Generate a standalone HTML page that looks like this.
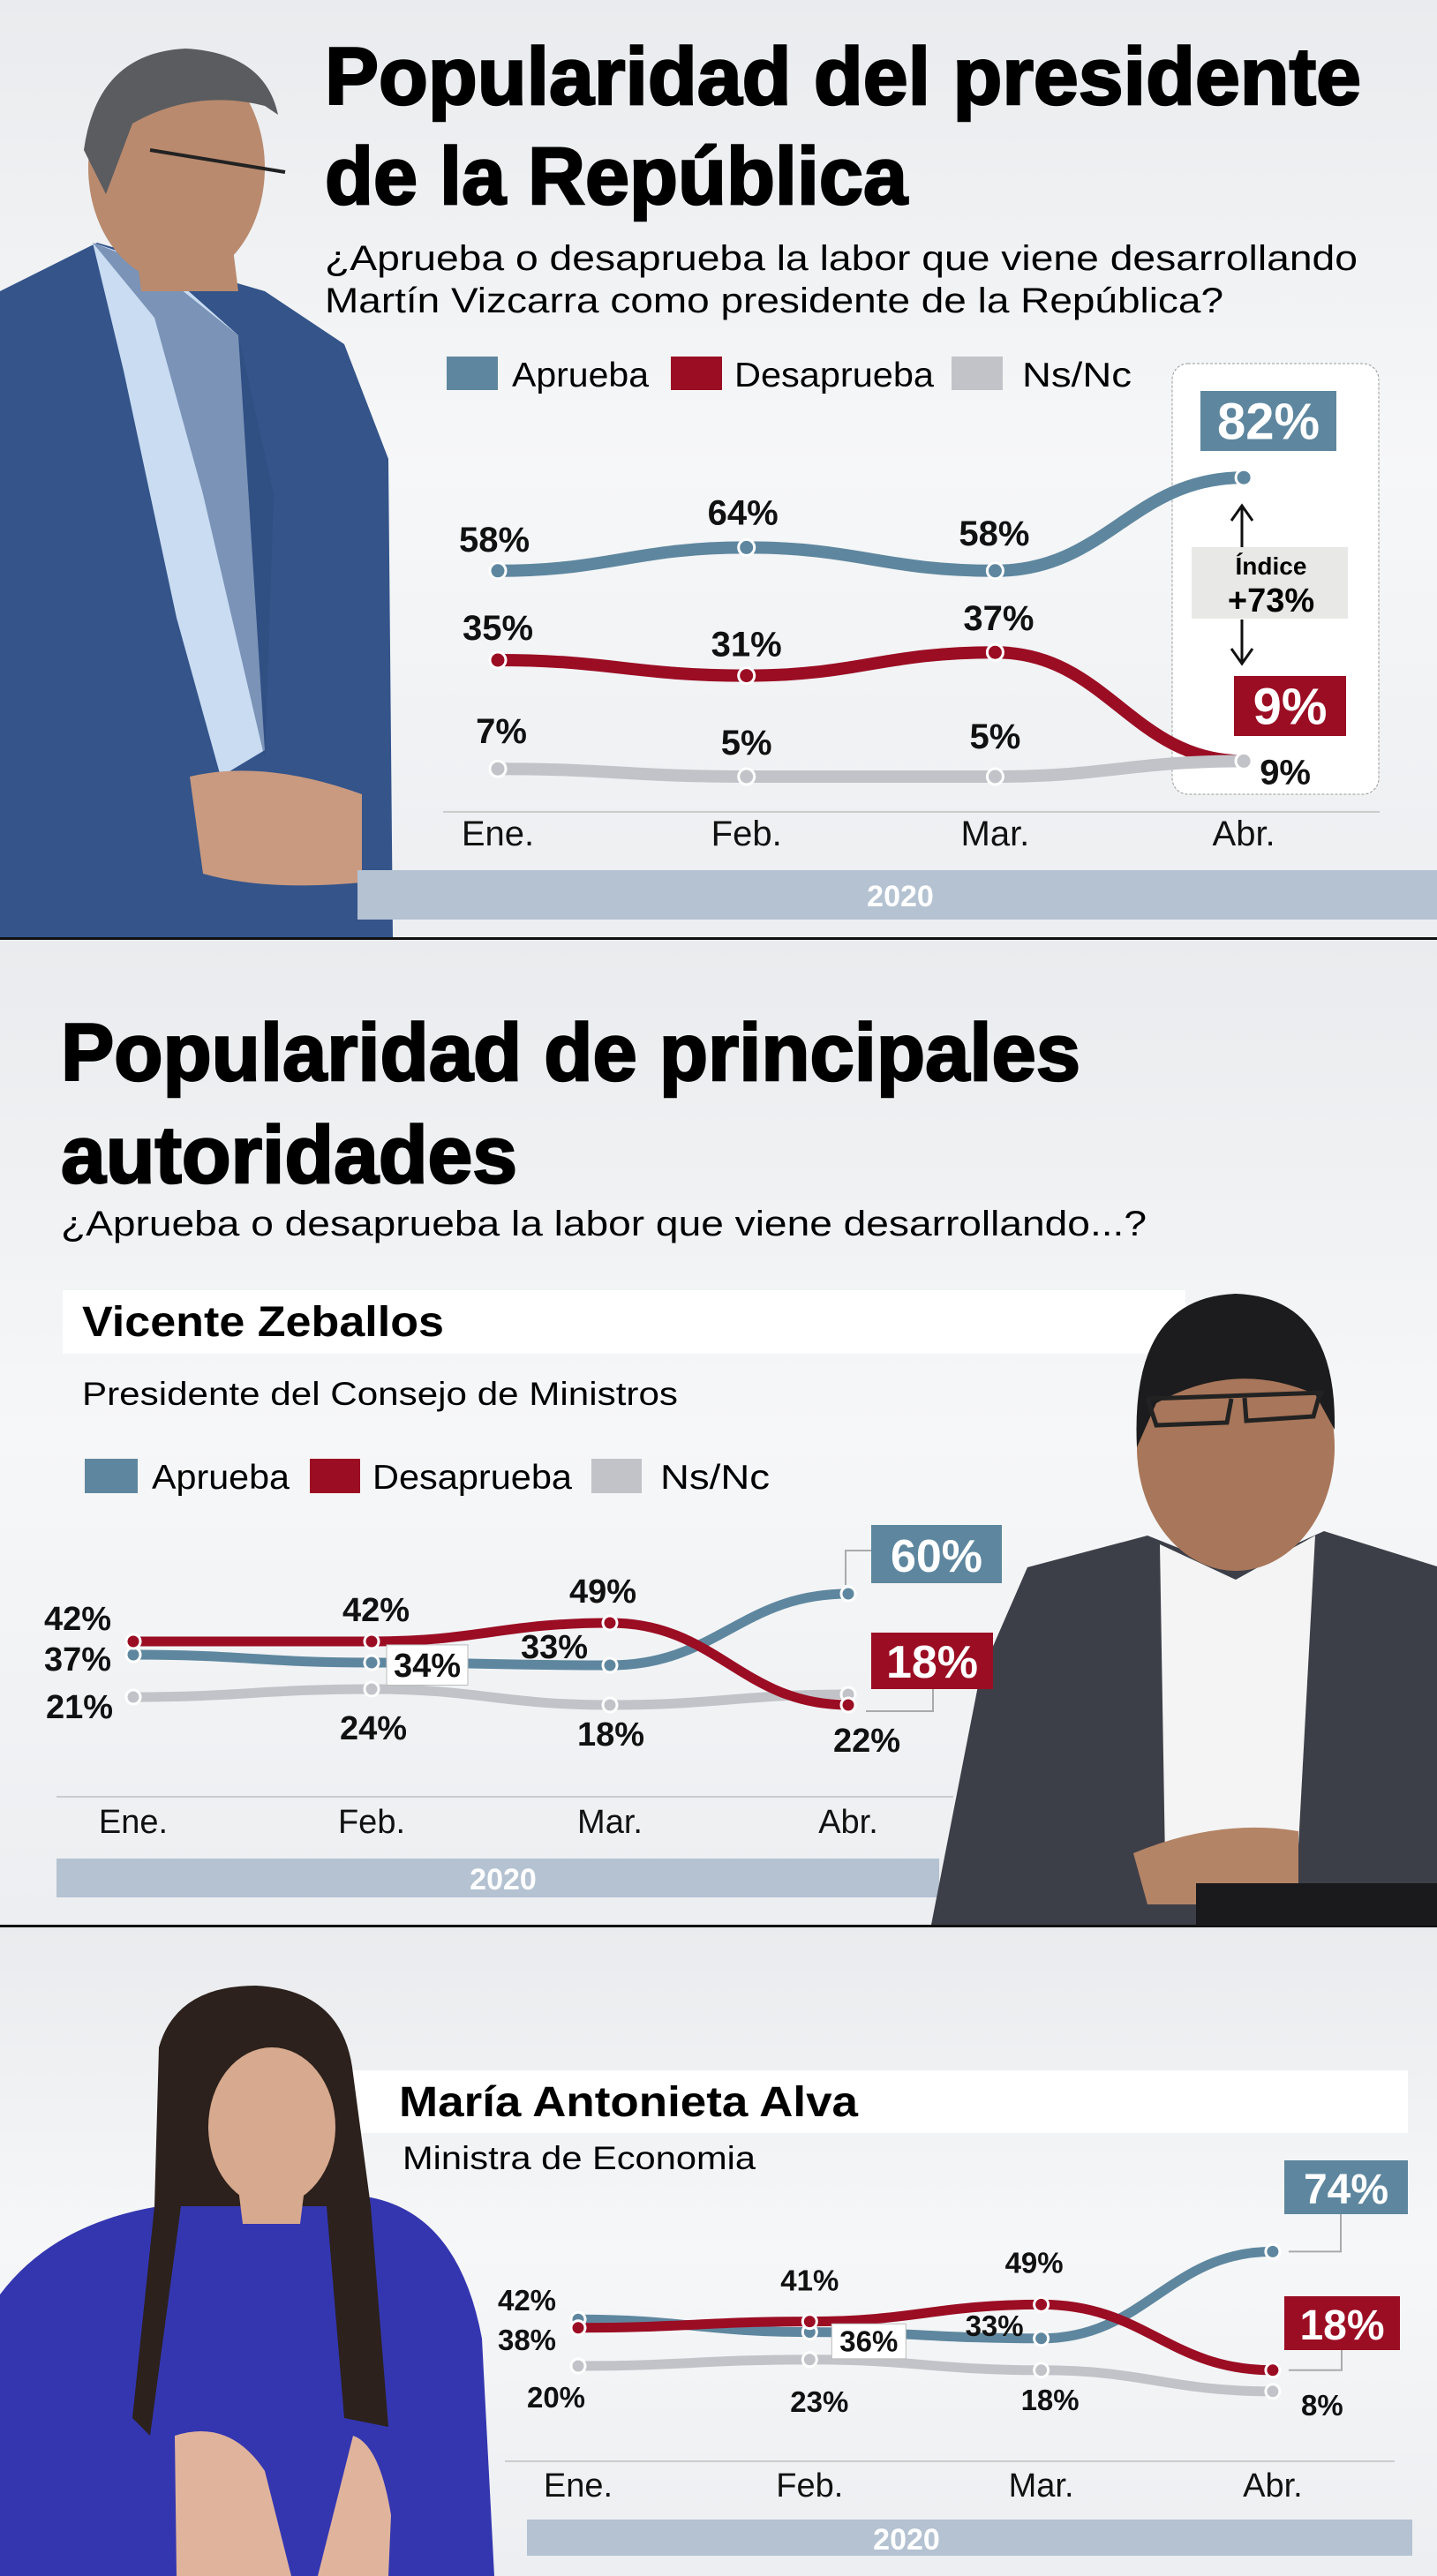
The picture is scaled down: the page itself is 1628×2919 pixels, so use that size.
<!DOCTYPE html>
<html><head><meta charset="utf-8"><style>
html,body{margin:0;padding:0;background:#eef0f3}
svg{display:block}
text{font-family:"Liberation Sans",sans-serif}
</style></head><body>
<svg id="s" width="1628" height="2919" viewBox="0 0 1628 2919" xmlns="http://www.w3.org/2000/svg">
<defs>
<linearGradient id="bg" x1="0" y1="0" x2="0" y2="1"><stop offset="0" stop-color="#e9ebee"/><stop offset="0.5" stop-color="#f6f7f8"/><stop offset="1" stop-color="#eceef1"/></linearGradient>
</defs>
<rect x="0" y="0" width="1628" height="1064" fill="url(#bg)"/>
<rect x="0" y="1064" width="1628" height="1119" fill="url(#bg)"/>
<rect x="0" y="2183" width="1628" height="736" fill="url(#bg)"/>
<rect x="0" y="1062" width="1628" height="3" fill="#111"/>
<rect x="0" y="2181" width="1628" height="3" fill="#111"/>

<!-- Photo 1: Vizcarra -->
<g>
<path d="M0 330 L80 290 L110 275 L300 330 L390 390 L440 520 L445 1062 L0 1062 Z" fill="#34548a"/>
<path d="M105 275 L180 300 L270 380 L300 850 L250 880 L200 700 L140 420 Z" fill="#c9dcf2"/>
<path d="M105 275 L175 360 L230 560 L300 860 L310 560 L270 380 L170 300 Z" fill="#2c4a7c" opacity="0.5"/>
<path d="M150 250 L260 250 L270 330 L160 330 Z" fill="#b98a6e"/>
<ellipse cx="200" cy="190" rx="100" ry="130" fill="#b98a6e"/>
<path d="M95 170 Q110 60 210 55 Q300 60 315 130 L300 120 Q220 100 150 140 L120 220 Z" fill="#5a5c60"/>
<path d="M170 170 L323 195" stroke="#222" stroke-width="4"/>
<path d="M215 880 Q300 860 410 900 L410 1000 Q300 1010 230 990 Z" fill="#c99a80"/>
</g>

<text x="368" y="118" font-size="92" font-weight="bold" stroke="#000" stroke-width="2.5" textLength="1174" lengthAdjust="spacingAndGlyphs">Popularidad del presidente</text>
<text x="368" y="231" font-size="92" font-weight="bold" stroke="#000" stroke-width="2.5" textLength="660" lengthAdjust="spacingAndGlyphs">de la República</text>
<text x="368" y="306" font-size="40" textLength="1170" lengthAdjust="spacingAndGlyphs">¿Aprueba o desaprueba la labor que viene desarrollando</text>
<text x="368" y="354" font-size="40" textLength="1018" lengthAdjust="spacingAndGlyphs">Martín Vizcarra como presidente de la República?</text>

<g>
<rect x="506" y="404" width="58" height="38" fill="#5e879f"/>
<text x="580" y="438" font-size="39" textLength="155" lengthAdjust="spacingAndGlyphs">Aprueba</text>
<rect x="760" y="404" width="58" height="38" fill="#9b0d23"/>
<text x="832" y="438" font-size="39" textLength="226" lengthAdjust="spacingAndGlyphs">Desaprueba</text>
<rect x="1078" y="404" width="58" height="38" fill="#c2c3c8"/>
<text x="1158" y="438" font-size="39" textLength="124" lengthAdjust="spacingAndGlyphs">Ns/Nc</text>
</g>
<rect x="1328" y="412" width="234" height="488" rx="18" fill="#fff" stroke="#999" stroke-dasharray="3 2"/>
<rect x="1350" y="620" width="177" height="81" fill="#e8e8e6"/>
<text x="1440" y="651" font-size="28" font-weight="bold" text-anchor="middle">Índice</text>
<text x="1440" y="693" font-size="38" font-weight="bold" text-anchor="middle">+73%</text>
<g stroke="#111" stroke-width="3" fill="none">
<path d="M1407 620 L1407 573 M1395 590 L1407 573 L1419 590"/>
<path d="M1407 702 L1407 752 M1395 735 L1407 752 L1419 735"/>
</g>
<line x1="502" y1="920" x2="1563" y2="920" stroke="#ccc" stroke-width="2"/>
<rect x="405" y="986" width="1223" height="56" fill="#b4c2d2"/>
<text x="1020" y="1027" font-size="34" font-weight="bold" fill="#fff" text-anchor="middle">2020</text>

<!-- Section 2 -->
<text x="69" y="1224" font-size="92" font-weight="bold" stroke="#000" stroke-width="2.5" textLength="1155" lengthAdjust="spacingAndGlyphs">Popularidad de principales</text>
<text x="69" y="1340" font-size="92" font-weight="bold" stroke="#000" stroke-width="2.5" textLength="517" lengthAdjust="spacingAndGlyphs">autoridades</text>
<text x="69" y="1400" font-size="40" textLength="1230" lengthAdjust="spacingAndGlyphs">¿Aprueba o desaprueba la labor que viene desarrollando...?</text>
<rect x="71" y="1462" width="1272" height="72" fill="#fff"/>
<text x="93" y="1514" font-size="48" font-weight="bold" textLength="410" lengthAdjust="spacingAndGlyphs">Vicente Zeballos</text>
<text x="93" y="1592" font-size="37" textLength="675" lengthAdjust="spacingAndGlyphs">Presidente del Consejo de Ministros</text>
<g>
<rect x="96" y="1653" width="60" height="39" fill="#5e879f"/>
<text x="172" y="1687" font-size="39" textLength="156" lengthAdjust="spacingAndGlyphs">Aprueba</text>
<rect x="351" y="1653" width="57" height="39" fill="#9b0d23"/>
<text x="422" y="1687" font-size="39" textLength="226" lengthAdjust="spacingAndGlyphs">Desaprueba</text>
<rect x="670" y="1653" width="57" height="39" fill="#c2c3c8"/>
<text x="748" y="1687" font-size="39" textLength="124" lengthAdjust="spacingAndGlyphs">Ns/Nc</text>
</g>
<line x1="64" y1="2036" x2="1080" y2="2036" stroke="#ccc" stroke-width="2"/>
<rect x="64" y="2106" width="1000" height="44" fill="#b4c2d2"/>
<text x="570" y="2141" font-size="34" font-weight="bold" fill="#fff" text-anchor="middle">2020</text>

<!-- Photo 2: Zeballos -->
<g>
<path d="M1055 2181 L1110 1900 L1164 1776 L1300 1740 L1400 1780 L1500 1735 L1628 1775 L1628 2181 Z" fill="#3d3f48"/>
<path d="M1314 1750 L1400 1790 L1490 1740 L1470 2110 L1320 2110 Z" fill="#f4f4f4"/>
<ellipse cx="1400" cy="1640" rx="112" ry="140" fill="#a8765a"/>
<path d="M1288 1640 Q1280 1470 1400 1466 Q1515 1470 1512 1620 L1490 1580 Q1400 1540 1310 1590 Z" fill="#1c1c1e"/>
<path d="M1300 1585 L1500 1578 M1300 1585 L1310 1615 L1390 1612 L1395 1585 M1410 1584 L1412 1610 L1488 1605 L1495 1580" stroke="#222" stroke-width="5" fill="none"/>
<path d="M1284 2100 Q1380 2060 1471 2075 L1471 2158 L1300 2158 Z" fill="#b48466"/>
<rect x="1355" y="2134" width="273" height="48" fill="#1a1a1c"/>
</g>

<!-- Section 3 -->
<rect x="399" y="2346" width="1196" height="71" fill="#fff"/>
<!-- Photo 3: Alva -->
<g>
<path d="M0 2600 Q60 2520 180 2500 L420 2490 Q520 2510 546 2650 L560 2919 L0 2919 Z" fill="#3436b0"/>
<path d="M180 2320 Q200 2250 290 2250 Q390 2255 400 2350 L420 2500 L440 2750 L390 2740 L370 2500 L205 2500 L170 2760 L150 2740 L175 2500 Z" fill="#2c211c"/>
<path d="M270 2480 L345 2480 L340 2520 L275 2520 Z" fill="#d7a98e"/>
<ellipse cx="308" cy="2410" rx="72" ry="90" fill="#d7a98e"/>
<path d="M198 2760 Q260 2740 300 2800 L330 2919 L200 2919 Z" fill="#e0b49c"/>
<path d="M400 2760 Q430 2770 443 2850 L440 2919 L360 2919 Z" fill="#e0b49c"/>
</g>
<text x="452" y="2398" font-size="48" font-weight="bold" textLength="520" lengthAdjust="spacingAndGlyphs">María Antonieta Alva</text>
<text x="456" y="2458" font-size="37" textLength="400" lengthAdjust="spacingAndGlyphs">Ministra de Economia</text>
<line x1="572" y1="2789" x2="1580" y2="2789" stroke="#ccc" stroke-width="2"/>
<rect x="597" y="2855" width="1003" height="41" fill="#b4c2d2"/>
<text x="1027" y="2889" font-size="34" font-weight="bold" fill="#fff" text-anchor="middle">2020</text>
<g id="charts"></g>
</svg>
<script>
const months = ["Ene.", "Feb.", "Mar.", "Abr."];
// Chart 1: Presidente
const c1Aprueba = [58, 64, 58, 82];
const c1Desaprueba = [35, 31, 37, 9];
const c1NsNc = [7, 5, 5, 9];
// Chart 2: Vicente Zeballos
const c2Aprueba = [37, 34, 33, 60];
const c2Desaprueba = [42, 42, 49, 18];
const c2NsNc = [21, 24, 18, 22];
// Chart 3: María Antonieta Alva
const c3Aprueba = [42, 36, 33, 74];
const c3Desaprueba = [38, 41, 49, 18];
const c3NsNc = [20, 23, 18, 8];

const NS = "http://www.w3.org/2000/svg";
const root = document.getElementById("charts");
const COL = {a: "#5e879f", d: "#9b0d23", n: "#c2c3c8"};

function mk(tag, attrs, parent) {
  const e = document.createElementNS(NS, tag);
  for (const k in attrs) e.setAttribute(k, attrs[k]);
  (parent || root).appendChild(e);
  return e;
}

function curve(pts) {
  let d = "M" + pts[0][0] + " " + pts[0][1];
  for (let i = 1; i < pts.length; i++) {
    const [x0, y0] = pts[i - 1], [x1, y1] = pts[i];
    const mx = (x1 - x0) * 0.45;
    d += " C" + (x0 + mx) + " " + y0 + " " + (x1 - mx) + " " + y1 + " " + x1 + " " + y1;
  }
  return d;
}

function drawChart(cfg) {
  const xs = i => cfg.x0 + i * cfg.step;
  const ys = v => cfg.base - cfg.k * v;
  const g = mk("g", {});
  
  
  months.forEach((m, i) => {
    const t = mk("text", {x: xs(i), y: cfg.monthY, "font-size": cfg.monthSize, "text-anchor": "middle", fill: "#111"}, g);
    
    
    t.textContent = m;
  });
  cfg.series.forEach(s => {
    const pts = s.values.map((v, i) => [xs(i), ys(v)]);
    const p = mk("path", {d: curve(pts), fill: "none", stroke: COL[s.c], "stroke-width": cfg.lw, "stroke-linecap": "round"}, g);
    
    
  });
  cfg.series.forEach(s => {
    s.values.forEach((v, i) => {
      const c = mk("circle", {cx: xs(i), cy: ys(v), r: cfg.r, fill: COL[s.c], stroke: "#fff", "stroke-width": 3}, g);
      
      
      const off = s.off[i];
      if (!off) return;
      if (off[2]) {
        const b = mk("rect", {x: xs(i) + off[0] - off[2] / 2, y: ys(v) + off[1] - cfg.ls * 0.95, width: off[2], height: cfg.ls * 1.2, fill: "#fff", stroke: "#bbb"}, g);
        
        
      }
      const t = mk("text", {x: xs(i) + off[0], y: ys(v) + off[1], "font-size": cfg.ls, "font-weight": "bold", "text-anchor": "middle", fill: "#111"}, g);
      
      
      t.textContent = v + "%";
    });
  });
  cfg.big.forEach(bx => {
    const s = cfg.series[bx.si];
    const v = s.values[3];
    if (bx.conn) {
      const px = xs(3), py = ys(v);
      const l = mk("path", {d: bx.conn(px, py), fill: "none", stroke: "#aaa", "stroke-width": 2}, g);
      
      
    }
    const r = mk("rect", {x: bx.x, y: bx.y, width: bx.w, height: bx.h, fill: COL[s.c]}, g);
    
    
    const t = mk("text", {x: bx.x + bx.w / 2, y: bx.y + bx.h * 0.8, "font-size": bx.fs, "font-weight": "bold", fill: "#fff", "text-anchor": "middle"}, g);
    
    
    t.textContent = v + "%";
  });
}

drawChart({
  name: "chart-president", x0: 564, step: 281.7, base: 902, k: 4.4, lw: 14, r: 9, ls: 40,
  monthY: 958, monthSize: 40,
  series: [
    {key: "aprueba", c: "a", values: c1Aprueba, off: [[-4, -22], [-4, -26], [-1, -29], null]},
    {key: "desaprueba", c: "d", values: c1Desaprueba, off: [[0, -23], [0, -22], [4, -25], [47, 26]]},
    {key: "nsnc", c: "n", values: c1NsNc, off: [[4, -29], [0, -25], [0, -32], null]}
  ],
  big: [
    {si: 0, x: 1360, y: 443, w: 154, h: 68, fs: 58},
    {si: 1, x: 1398, y: 766, w: 127, h: 68, fs: 58}
  ]
});

drawChart({
  name: "chart-zeballos", x0: 151, step: 270, base: 1986, k: 3, lw: 11, r: 8, ls: 38,
  monthY: 2077, monthSize: 38,
  series: [
    {key: "nsnc", c: "n", values: c2NsNc, off: [[-61, 24], [2, 57], [1, 46], [21, 65]]},
    {key: "aprueba", c: "a", values: c2Aprueba, off: [[-63, 18], [63, 16, 92], [-63, -8], null]},
    {key: "desaprueba", c: "d", values: c2Desaprueba, off: [[-63, -13], [5, -23], [-8, -23], null]}
  ],
  big: [
    {si: 1, x: 987, y: 1728, w: 148, h: 66, fs: 52, conn: (px, py) => `M${px - 3} ${py - 10} L${px - 3} 1757 L987 1757`},
    {si: 2, x: 987, y: 1850, w: 138, h: 64, fs: 52, conn: (px, py) => `M${px + 20} ${py + 7} L1057 ${py + 7} L1057 1914`}
  ]
});

drawChart({
  name: "chart-alva", x0: 655, step: 262.3, base: 2729, k: 2.4, lw: 11, r: 8, ls: 33,
  monthY: 2829, monthSize: 38,
  series: [
    {key: "nsnc", c: "n", values: c3NsNc, off: [[-25, 47], [11, 59], [10, 45], [56, 27]]},
    {key: "aprueba", c: "a", values: c3Aprueba, off: [[-58, -10], [67, 22, 84], [-53, -3], null]},
    {key: "desaprueba", c: "d", values: c3Desaprueba, off: [[-58, 25], [0, -35], [-8, -36], null]}
  ],
  big: [
    {si: 1, x: 1455, y: 2448, w: 140, h: 61, fs: 48, conn: (px, py) => `M${px + 18} ${py} L1519 ${py} L1519 2509`},
    {si: 2, x: 1455, y: 2602, w: 131, h: 61, fs: 48, conn: (px, py) => `M${px + 18} ${py} L1520 ${py} L1520 2663`}
  ]
});
</script>
</body></html>
